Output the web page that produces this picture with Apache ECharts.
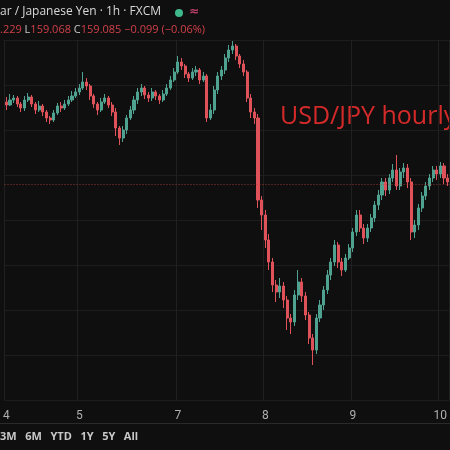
<!DOCTYPE html>
<html>
  <head>
    <script src="https://cdn.jsdelivr.net/npm/echarts@6/dist/echarts.min.js"></script>
    <style>html,body{margin:0;background:#0f0f0f;}</style>
  </head>
  <body>
    <div id="chart" style="width: 450px; height: 450px;"></div>
    <script type="text/javascript">
      // hourly closes, highs, lows (open = previous close)
      var firstOpen = 159.98;
      var closes = [
        159.95,160.00,160.02,159.96,159.92,160.00,160.03,159.96,159.90,159.94,
        159.88,159.82,159.80,159.87,159.94,159.92,159.96,160.00,160.04,160.08,
        160.12,160.18,160.14,160.04,159.96,159.90,159.98,160.02,159.95,159.88,
        159.72,159.62,159.70,159.82,159.90,160.00,160.08,160.12,160.05,160.02,
        160.08,160.04,160.00,160.06,160.12,160.20,160.28,160.38,160.34,160.26,
        160.22,160.28,160.30,160.20,160.24,159.82,159.90,160.10,160.24,160.30,
        160.42,160.50,160.54,160.44,160.36,160.28,160.02,159.88,159.82,159.00,
        158.85,158.60,158.38,158.15,158.08,158.14,158.00,157.82,157.78,158.05,
        158.18,158.04,157.85,157.62,157.50,157.82,157.95,158.10,158.25,158.38,
        158.55,158.38,158.30,158.42,158.52,158.68,158.85,158.72,158.62,158.72,
        158.82,158.95,159.05,159.18,159.10,159.22,159.30,159.14,159.28,159.32,
        159.18,158.68,158.75,158.92,159.04,159.14,159.22,159.30,159.26,159.34,159.22,159.18
      ];
      var highs = [
        160.03,160.06,160.05,160.04,159.98,160.04,160.07,160.05,159.98,159.99,
        159.96,159.90,159.84,159.90,159.97,159.98,160.00,160.04,160.09,160.12,
        160.16,160.28,160.22,160.16,160.06,159.98,160.02,160.06,160.04,159.98,
        159.92,159.74,159.74,159.85,159.94,160.04,160.12,160.16,160.14,160.08,
        160.12,160.10,160.06,160.10,160.16,160.24,160.32,160.44,160.42,160.36,
        160.28,160.32,160.34,160.32,160.28,160.26,159.96,160.14,160.28,160.34,
        160.46,160.55,160.59,160.56,160.46,160.40,160.30,160.06,159.92,159.86,
        159.04,158.90,158.66,158.42,158.20,158.22,158.18,158.04,157.86,158.10,
        158.30,158.22,158.08,157.88,157.66,157.86,158.00,158.14,158.30,158.42,
        158.60,158.58,158.42,158.46,158.56,158.72,158.90,158.90,158.76,158.76,
        158.86,158.99,159.10,159.22,159.22,159.26,159.36,159.45,159.32,159.37,
        159.36,159.22,158.80,158.96,159.08,159.18,159.26,159.34,159.34,159.38,159.37,159.26
      ];
      var lows = [
        159.90,159.94,159.97,159.93,159.88,159.89,159.98,159.93,159.86,159.88,
        159.84,159.78,159.76,159.78,159.85,159.88,159.90,159.94,159.98,160.02,
        160.05,160.10,160.10,160.00,159.92,159.85,159.88,159.96,159.92,159.84,
        159.64,159.55,159.58,159.66,159.80,159.86,159.96,160.04,160.01,159.98,
        159.99,160.00,159.96,159.98,160.04,160.10,160.18,160.26,160.30,160.22,
        160.18,160.20,160.24,160.16,160.18,159.78,159.80,159.86,160.06,160.20,
        160.26,160.38,160.46,160.40,160.32,160.24,159.98,159.82,159.76,158.92,
        158.70,158.52,158.30,158.08,157.98,158.02,157.92,157.70,157.66,157.74,
        158.00,157.98,157.80,157.56,157.35,157.46,157.78,157.90,158.06,158.20,
        158.34,158.32,158.24,158.28,158.40,158.48,158.64,158.68,158.56,158.58,
        158.68,158.78,158.90,159.00,159.04,159.06,159.18,159.10,159.10,159.22,
        159.12,158.60,158.62,158.70,158.88,159.00,159.10,159.18,159.20,159.22,159.16,159.14
      ];
      var dayLabels = { 0: "4", 20: "5", 47: "7", 71: "8", 95: "9", 119: "10" };
      var lastPrice = 159.16;

      var cats = closes.map(function (c, i) { return i; });
      var candles = closes.map(function (c, i) {
        var o = i === 0 ? firstOpen : closes[i - 1];
        return [o, c, lows[i], highs[i]];
      });

      var chart = echarts.init(document.getElementById("chart"));
      chart.setOption({
        backgroundColor: "#0f0f0f",
        animation: false,
        grid: { left: 0, right: 0, top: 40, bottom: 50 },
        xAxis: {
          type: "category",
          data: cats,
          boundaryGap: true,
          axisLine: { show: false },
          axisTick: { show: false },
          axisLabel: {
            color: "#b0b0b0",
            fontSize: 12,
            fontFamily: "Roboto",
            margin: 10,
            interval: function (i) { return dayLabels[i] !== undefined; },
            formatter: function (v) { return dayLabels[v] || ""; }
          },
          splitLine: {
            show: true,
            interval: function (i) { return dayLabels[i] !== undefined; },
            lineStyle: { color: "#202020", width: 1 }
          }
        },
        yAxis: {
          type: "value",
          min: 157.0,
          max: 160.6,
          interval: 0.45,
          axisLabel: { show: false },
          axisLine: { show: false },
          axisTick: { show: false },
          splitLine: { lineStyle: { color: "#1d1d1d" } }
        },
        graphic: [
          { type: "rect", shape: { x: 0, y: 423, width: 450, height: 1 }, style: { fill: "#2a2a2a" } },
          {
            type: "text", left: 0, top: 6,
            style: { text: "ar / Japanese Yen · 1h · FXCM", fill: "#d8d8d8", font: "12px 'Open Sans'" }
          },
          { type: "circle", shape: { cx: 179, cy: 13, r: 4 }, style: { fill: "#3fb98c" } },
          {
            type: "text", left: 189, top: 6,
            style: { text: "≈", fill: "#c2406a", font: "bold 12px 'DejaVu Sans'" }
          },
          {
            type: "text", left: 0, top: 24,
            style: {
              text: "{r|.229} {g|L}{r|159.068} {g|C}{r|159.085 −0.099 (−0.06%)}",
              font: "11px 'Open Sans'",
              rich: {
                r: { fill: "#d1404a", font: "11px 'Open Sans'" },
                g: { fill: "#c8c8c8", font: "11px 'Open Sans'" }
              }
            }
          },
          {
            type: "text", left: 280, top: 104,
            style: { text: "USD/JPY hourly", fill: "#d42a2a", font: "25px 'Open Sans'" }
          },
          {
            type: "text", left: 0, top: 431,
            style: { text: "3M   6M   YTD   1Y   5Y   All", fill: "#c8c8c8", font: "bold 11px 'Open Sans'" }
          }
        ],
        series: [{
          type: "candlestick",
          data: candles,
          barWidth: 2.6,
          itemStyle: {
            color: "#4fa28f",
            color0: "#e0525a",
            borderColor: "#4fa28f",
            borderColor0: "#e0525a",
            borderWidth: 1
          },
          markLine: {
            symbol: "none",
            silent: true,
            label: { show: false },
            lineStyle: { color: "#b8403f", type: [1, 2], width: 1, opacity: 0.8 },
            data: [{ yAxis: lastPrice }]
          }
        }]
      });
    </script>
  </body>
</html>
